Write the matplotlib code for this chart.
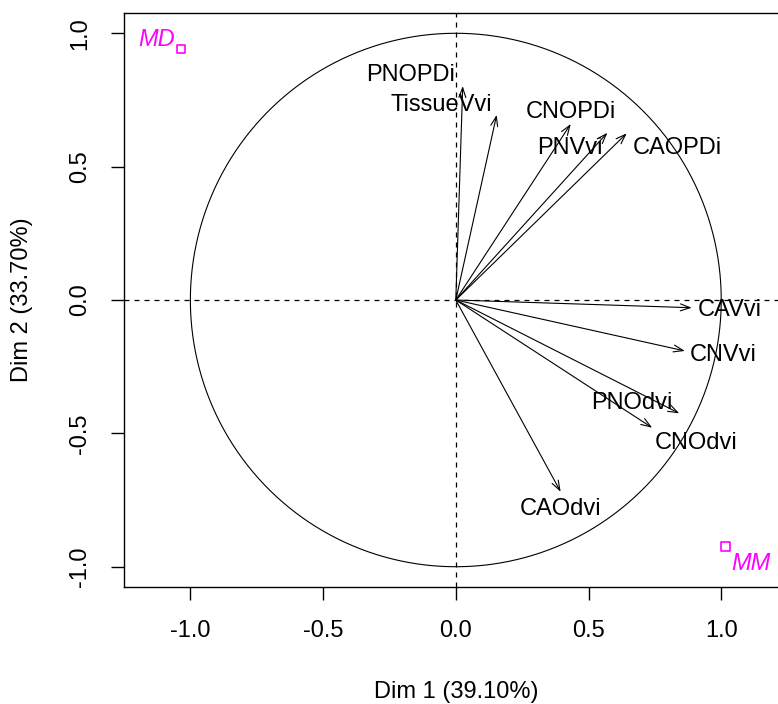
import matplotlib
matplotlib.use("Agg")
import matplotlib.pyplot as plt
import numpy as np

plt.rcParams['font.family'] = ['Liberation Sans', 'DejaVu Sans']

# variable coordinates on the first two dimensions
var_names = ['PNOPDi', 'TissueVvi', 'CNOPDi', 'PNVvi', 'CAOPDi',
             'CAVvi', 'CNVvi', 'PNOdvi', 'CNOdvi', 'CAOdvi']
dim1 = [0.026, 0.154, 0.433, 0.571, 0.644, 0.889, 0.863, 0.842, 0.740, 0.395]
dim2 = [0.802, 0.694, 0.660, 0.627, 0.625, -0.029, -0.191, -0.425, -0.479, -0.719]

# supplementary categories
sup_names = ['MD', 'MM']
sup_dim1 = [-1.035, 1.017]
sup_dim2 = [0.941, -0.925]

# label placement (layout, as drawn by autoLab)
var_label_xy = [(-0.169, 0.844), (-0.056, 0.731), (0.435, 0.706), (0.430, 0.569),
                (0.833, 0.569), (1.033, -0.037), (1.006, -0.206), (0.664, -0.387),
                (0.905, -0.537), (0.396, -0.785)]
sup_label_xy = [(-1.126, 0.977), (1.112, -0.987)]

fs = 17
fig = plt.figure(figsize=(7.78, 7.04), dpi=100)
ax = fig.add_axes([124 / 778, 117 / 704, 663.6 / 778, 574 / 704])
ax.set_xlim(-1.25, 1.25)
ax.set_ylim(-1.076, 1.076)

t = np.linspace(0, 2 * np.pi, 400)
ax.plot(np.cos(t), np.sin(t), color='black', lw=0.8)
ax.axhline(0, color='black', lw=0.9, ls=(0, (4, 4)))
ax.axvline(0, color='black', lw=0.9, ls=(0, (4, 4)))

for name, x, y, (lx, ly) in zip(var_names, dim1, dim2, var_label_xy):
    ax.annotate('', xy=(x, y), xytext=(0, 0),
                arrowprops=dict(arrowstyle='->,head_length=0.7,head_width=0.25',
                                color='black', lw=0.8, shrinkA=0, shrinkB=0))
    ax.text(lx, ly, name, fontsize=fs, ha='center', va='center', color='black')

ax.scatter(sup_dim1, sup_dim2, marker='s', s=40, facecolors='none',
           edgecolors='#FF00FF', linewidths=1.2, zorder=3)
for name, (lx, ly) in zip(sup_names, sup_label_xy):
    ax.text(lx, ly, name, fontsize=fs, ha='center', va='center',
            color='#FF00FF', style='italic')

ticks = [-1.0, -0.5, 0.0, 0.5, 1.0]
tick_labels = ['-1.0', '-0.5', '0.0', '0.5', '1.0']
ax.set_xticks(ticks)
ax.set_xticklabels(tick_labels)
ax.set_yticks(ticks)
ax.set_yticklabels(tick_labels, rotation=90, va='center')
ax.tick_params(axis='both', direction='out', length=9.5, width=1.0,
               labelsize=fs, pad=14)
for s in ax.spines.values():
    s.set_linewidth(1.0)

ax.set_xlabel('Dim 1 (39.10%)', fontsize=fs, labelpad=28)
ax.set_ylabel('Dim 2 (33.70%)', fontsize=fs, labelpad=26)

fig.savefig('out.png', dpi=100)
